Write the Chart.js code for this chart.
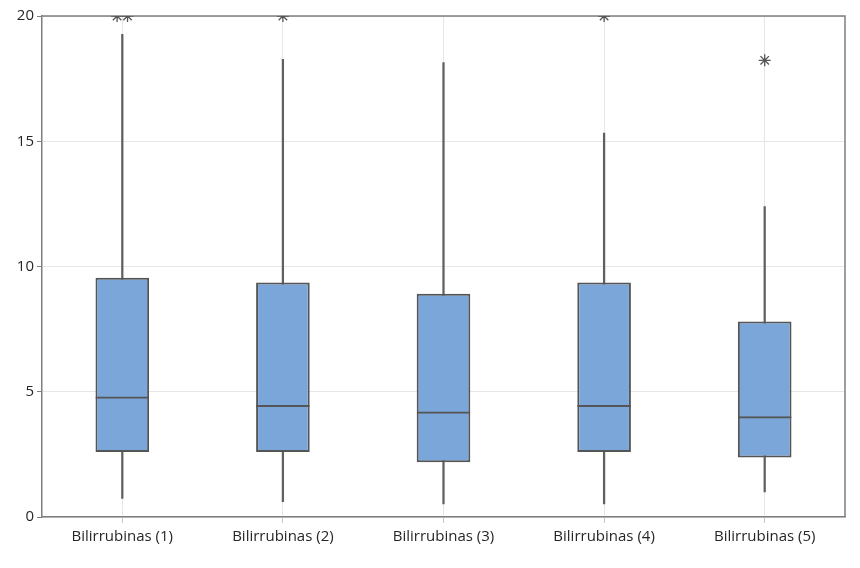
<!DOCTYPE html>
<html>
<head>
<meta charset="utf-8">
<script src="https://cdn.jsdelivr.net/npm/chart.js@4/dist/chart.umd.min.js"></script>
<style>
  html, body { margin: 0; padding: 0; background: #ffffff; }
  canvas { display: block; }
</style>
</head>
<body>
<canvas id="c" width="860" height="568"></canvas>
<script>
// Box-plot summaries for each bilirubin measurement
const categories = ['Bilirrubinas (1)', 'Bilirrubinas (2)', 'Bilirrubinas (3)', 'Bilirrubinas (4)', 'Bilirrubinas (5)'];
const whiskerLow  = [0.74, 0.61, 0.52, 0.52, 1.00];
const q1          = [2.59, 2.59, 2.19, 2.59, 2.38];
const median      = [4.81, 4.47, 4.21, 4.47, 4.02];
const q3          = [9.55, 9.36, 8.91, 9.36, 7.80];
const whiskerHigh = [19.27, 18.27, 18.14, 15.33, 12.39];
const outliers    = [[20, 20], [20], [], [20], [18.23]];
const yTicks      = [0, 5, 10, 15, 20];

const boxFill = '#7ba6d9';
const lineGray = '#555555';

// Outlier points; repeated points in one group are spread slightly sideways
const outlierPoints = [];
outliers.forEach((vals, i) => {
  vals.forEach((v, j) => {
    const spread = (j - (vals.length - 1) / 2) * 0.065;
    outlierPoints.push({ x: i + spread, y: v });
  });
});

// Frame on the top and right sides of the plot area
const frame = {
  id: 'frame',
  beforeDatasetsDraw(chart) {
    const { ctx, chartArea: a } = chart;
    ctx.save();
    ctx.strokeStyle = '#7f7f7f';
    ctx.lineWidth = 1.5;
    ctx.beginPath();
    ctx.moveTo(a.left, a.top);
    ctx.lineTo(a.right, a.top);
    ctx.lineTo(a.right, a.bottom);
    ctx.stroke();
    ctx.restore();
  }
};

Chart.defaults.font.family = "'Open Sans', 'Noto Sans', sans-serif";

const boxCommon = {
  barPercentage: 0.334,
  categoryPercentage: 1,
  borderSkipped: false,
  grouped: false
};

new Chart(document.getElementById('c'), {
  type: 'bar',
  data: {
    datasets: [
      {
        label: 'whisker',
        data: categories.map((c, i) => ({ x: i, y: [whiskerLow[i], whiskerHigh[i]] })),
        backgroundColor: '#606060',
        borderWidth: 0,
        barThickness: 1.6,
        grouped: false,
        order: 4
      },
      Object.assign({
        label: 'box',
        data: categories.map((c, i) => ({ x: i, y: [q1[i], q3[i]] })),
        backgroundColor: boxFill,
        borderColor: lineGray,
        borderWidth: 2,
        order: 3
      }, boxCommon),
      Object.assign({
        label: 'median',
        data: categories.map((c, i) => ({ x: i, y: [q1[i], median[i]] })),
        backgroundColor: 'rgba(0,0,0,0)',
        borderColor: lineGray,
        borderWidth: { top: 2, bottom: 0, left: 0, right: 0 },
        order: 2
      }, boxCommon),
      {
        type: 'scatter',
        label: 'outliers',
        data: outlierPoints,
        pointStyle: 'star',
        radius: 6,
        borderColor: '#555555',
        borderWidth: 1.3,
        clip: 0,
        order: 1
      }
    ]
  },
  options: {
    responsive: false,
    animation: false,
    layout: { padding: { top: 16, right: 15, left: 0, bottom: 0 } },
    plugins: { legend: { display: false }, tooltip: { enabled: false } },
    scales: {
      x: {
        type: 'linear',
        min: -0.5,
        max: 4.5,
        offset: false,
        afterBuildTicks: s => { s.ticks = categories.map((c, i) => ({ value: i })); },
        afterFit: s => { s.height = 51; },
        ticks: {
          callback: v => categories[v] ?? '',
          autoSkip: false,
          maxRotation: 0,
          color: '#262626',
          padding: 5,
          font: { size: 15 }
        },
        grid: { offset: false, color: '#e6e6e6', lineWidth: 1, tickLength: 6, tickColor: '#c4c4c4' },
        border: { color: '#7f7f7f', width: 1.5 }
      },
      y: {
        min: 0,
        max: 20,
        afterBuildTicks: s => { s.ticks = yTicks.map(v => ({ value: v })); },
        afterFit: s => { s.width = 42; },
        ticks: { color: '#262626', padding: 3, font: { size: 15 } },
        grid: { color: '#e6e6e6', lineWidth: 1, tickLength: 5, tickColor: '#7f7f7f' },
        border: { color: '#7f7f7f', width: 1.5 }
      }
    }
  },
  plugins: [frame]
});
</script>
</body>
</html>
